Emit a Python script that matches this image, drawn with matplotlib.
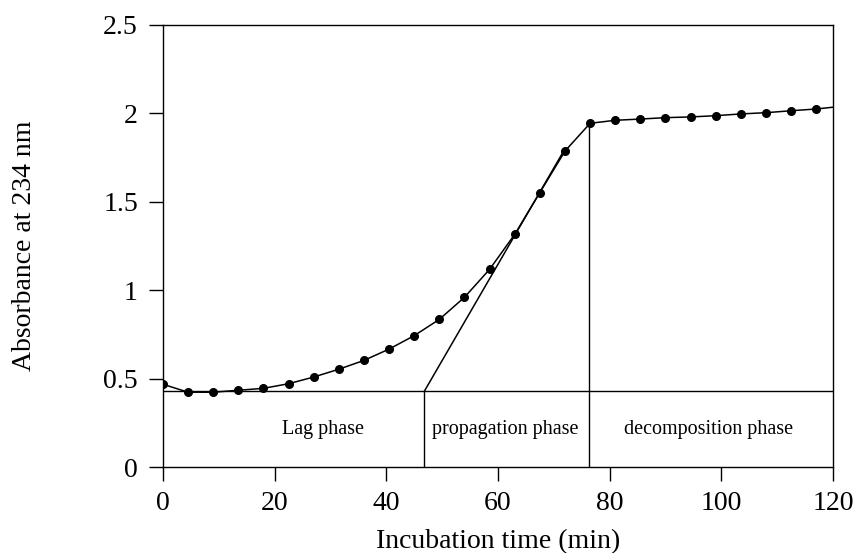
import matplotlib.pyplot as plt

# dane
czas = [0, 4.5, 9, 13.5, 18, 22.5, 27, 31.5, 36, 40.5, 45, 49.5, 54, 58.5, 63,
        67.5, 72, 76.5, 81, 85.5, 90, 94.5, 99, 103.5, 108, 112.5, 117, 121.5]
absorbancja = [0.468, 0.423, 0.423, 0.434, 0.445, 0.471, 0.509, 0.553, 0.603, 0.667,
               0.743, 0.835, 0.960, 1.118, 1.316, 1.552, 1.787, 1.944, 1.961, 1.968,
               1.976, 1.980, 1.987, 1.997, 2.004, 2.015, 2.025, 2.040]

poziom_bazowy = 0.428
styczna_x = [46.8, 72.0]
styczna_y = [0.428, 1.80]
granice_faz = [46.8, 76.3]
granice_y = [0.428, 1.944]
nazwy_faz = ["Lag phase", "propagation phase", "decomposition phase"]
srodki_faz = [28.7, 61.3, 97.8]

plt.rcParams['font.family'] = ['Liberation Serif', 'DejaVu Serif']

fig = plt.figure(figsize=(8.6, 5.53), dpi=100)
ax = fig.add_axes([0.1895, 0.1555, 0.7791, 0.7993])

ax.plot(czas, absorbancja, color="black", linewidth=1.1, marker="o", markersize=5.5)
ax.plot([0, 120], [poziom_bazowy, poziom_bazowy], color="black", linewidth=1.0)
ax.plot(styczna_x, styczna_y, color="black", linewidth=1.1)
for gx, gy in zip(granice_faz, granice_y):
    ax.plot([gx, gx], [0, gy], color="black", linewidth=1.0)

for nazwa, sx in zip(nazwy_faz, srodki_faz):
    ax.text(sx, 0.21, nazwa, ha="center", va="center", fontsize=14.5)

ax.set_xlim(0, 120)
ax.set_ylim(0, 2.5)
ax.set_xticks([0, 20, 40, 60, 80, 100, 120])
ax.set_yticks([0, 0.5, 1, 1.5, 2, 2.5])
ax.set_yticklabels(["0", "0.5", "1", "1.5", "2", "2.5"])
ax.tick_params(direction="out", length=10, width=1.0, labelsize=20)
ax.tick_params(axis="y", pad=8)
ax.tick_params(axis="x", pad=7)
for s in ax.spines.values():
    s.set_linewidth(1.0)

ax.set_xlabel("Incubation time (min)", fontsize=20, labelpad=10)
ax.set_ylabel("Absorbance at 234 nm", fontsize=20, labelpad=48)

plt.savefig("out.png", dpi=100)
